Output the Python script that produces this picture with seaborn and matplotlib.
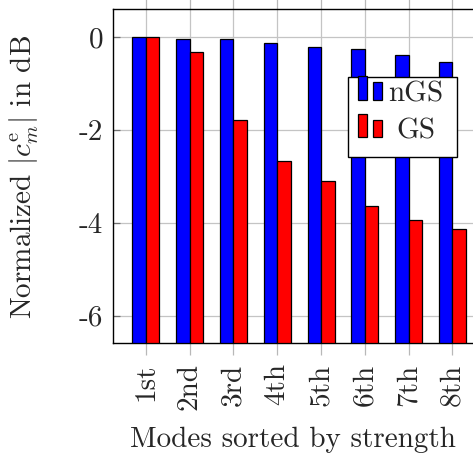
import numpy as np
import pandas as pd
import matplotlib
matplotlib.use("Agg")
import matplotlib.pyplot as plt
import seaborn as sns
from matplotlib.legend_handler import HandlerBase
from matplotlib.patches import Rectangle, Patch

modes = ["1st", "2nd", "3rd", "4th", "5th", "6th", "7th", "8th"]
ngs = [0.0, -0.04, -0.04, -0.13, -0.22, -0.25, -0.39, -0.54]
gs = [0.0, -0.32, -1.78, -2.67, -3.10, -3.64, -3.94, -4.13]
series = ["nGS", "GS"]
colors = ["#0000ff", "#ff0000"]
yticks = [0, -2, -4, -6]
yticklabels = ["0", "-2", "-4", "-6"]

sns.set_style("white")
plt.rcParams["font.family"] = ["cmr10", "DejaVu Serif"]
plt.rcParams["mathtext.fontset"] = "cm"
plt.rcParams["axes.unicode_minus"] = False

FS = 21

df = pd.DataFrame({
    "mode": modes * 2,
    "series": [series[0]] * len(modes) + [series[1]] * len(modes),
    "value": ngs + gs,
})

W, H = 473, 461
fig = plt.figure(figsize=(W / 100, H / 100), dpi=100)
ax_l, ax_r, ax_t, ax_b = 113.3, 485.0, 9.3, 342.7
ax = fig.add_axes([ax_l / W, 1 - ax_b / H, (ax_r - ax_l) / W, (ax_b - ax_t) / H])

YMIN, YMAX = -6.58, 0.6

sns.barplot(data=df, x="mode", y="value", hue="series", palette=colors,
            edgecolor="black", linewidth=0.9, width=0.616, saturation=1,
            ax=ax, zorder=3, legend=False)

# pgfplots-style bars: drawn up from the bottom of the axis
for cont in ax.containers:
    for rect in cont:
        top = rect.get_y() + rect.get_height()
        rect.set_y(YMIN)
        rect.set_height(top - YMIN)

ax.set_xlim(-0.746, len(modes) - 1 + 0.746)
ax.set_ylim(YMIN, YMAX)
ax.set_yticks(yticks)
ax.set_yticklabels(yticklabels)
ax.set_xticks(range(len(modes)))
ax.set_xticklabels(modes, rotation=90, va="top", ha="center")
ax.grid(True, color="#c4c4c4", linewidth=0.9, zorder=0)
ax.set_axisbelow(True)
for s in ax.spines.values():
    s.set_color("black")
    s.set_linewidth(1.0)
ax.tick_params(axis="x", which="both", direction="out", length=8.4, width=0.9,
               color="#b8b8b8", top=True, bottom=True, labelsize=FS, pad=6.5)
ax.tick_params(axis="y", which="both", direction="in", length=5, width=0.9,
               color="#707070", left=True, right=True, labelsize=FS, pad=7.2)
ax.set_xlabel("")
ax.set_ylabel("")

fig.text(292.5 / W, 1 - 440 / H, "Modes sorted by strength", ha="center", va="center",
         fontsize=FS)
fig.text(24 / W, 1 - 177 / H, r"Normalized $|c_m^{\mathrm{e}}|$ in dB", ha="center",
         va="center", rotation=90, fontsize=FS)


class TwoBarHandler(HandlerBase):
    def create_artists(self, legend, orig_handle, xdescent, ydescent, width, height,
                       fontsize, trans):
        fc = orig_handle.get_facecolor()
        px = 0.72  # points per pixel
        x0 = -xdescent
        y0 = 1.6 * px
        bw = 9 * px
        r1 = Rectangle((x0, y0), bw, 23.4 * px, facecolor=fc, edgecolor="black",
                       linewidth=0.9, transform=trans)
        r2 = Rectangle((x0 + 15.6 * px, y0), bw, 17.4 * px, facecolor=fc,
                       edgecolor="black", linewidth=0.9, transform=trans)
        return [r1, r2]


handles = [Patch(facecolor=c) for c in colors]
leg = ax.legend(handles, series, handler_map={Patch: TwoBarHandler()},
                loc="upper left", bbox_to_anchor=(357.7 / W, 1 - 81.0 / H),
                bbox_transform=fig.transFigure, fontsize=FS, frameon=False,
                handlelength=17.7 / FS, handleheight=0.7, handletextpad=4.3 / FS,
                borderpad=0, labelspacing=0.37, borderaxespad=0)
leg.set_zorder(6)
# centre the shorter label under the longer one (pgfplots centres legend text)
leg.get_texts()[1].set_x(8)

frame = Rectangle((348.3 / W, 1 - 157.3 / H), 109.0 / W, 80.6 / H,
                  transform=fig.transFigure, facecolor="white", edgecolor="black",
                  linewidth=1.0, zorder=5, clip_on=False)
ax.add_artist(frame)

fig.savefig("out.png", dpi=100)
